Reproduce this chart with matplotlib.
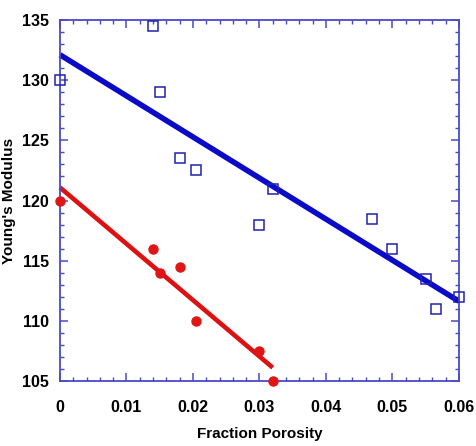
import matplotlib
matplotlib.use("Agg")
import matplotlib.pyplot as plt
import numpy as np
from matplotlib.ticker import MultipleLocator

plt.rcParams['font.family'] = ['Liberation Sans', 'DejaVu Sans']

# blue open squares
blue_x = [0.0, 0.014, 0.015, 0.018, 0.0205, 0.030, 0.032, 0.047, 0.050, 0.055, 0.0565, 0.060]
blue_y = [130.0, 134.5, 129.0, 123.5, 122.5, 118.0, 121.0, 118.5, 116.0, 113.5, 111.0, 112.0]

# red filled circles
red_x = [0.0, 0.014, 0.015, 0.018, 0.0205, 0.030, 0.032]
red_y = [120.0, 116.0, 114.0, 114.5, 110.0, 107.5, 105.0]

xticks = [0, 0.01, 0.02, 0.03, 0.04, 0.05, 0.06]
xticklabels = ['0', '0.01', '0.02', '0.03', '0.04', '0.05', '0.06']
yticks = [105, 110, 115, 120, 125, 130, 135]

axis_col = '#4a4ac8'

fig = plt.figure(figsize=(4.76, 4.46), dpi=100)
ax = fig.add_axes([0.126, 0.1457, 0.838, 0.8093])

# least squares fit lines
bfit = np.polyfit(blue_x, blue_y, 1)
rfit = np.polyfit(red_x, red_y, 1)
bx = np.array([0, 0.06])
rx = np.array([0, 0.032])
ax.plot(bx, np.polyval(bfit, bx), color='#0a0ac8', lw=4, solid_capstyle='butt', clip_on=False)
ax.plot(rx, np.polyval(rfit, rx), color='#dd1111', lw=3.3, solid_capstyle='butt', clip_on=False)

ax.plot(blue_x, blue_y, 's', mfc='none', mec='#2020b0', mew=1.1, ms=7.5, clip_on=False, zorder=5)
ax.plot(red_x, red_y, 'o', color='#e01515', ms=6.5, clip_on=False, zorder=5)

ax.set_xlim(0, 0.06)
ax.set_ylim(105, 135)
ax.set_xticks(xticks)
ax.set_xticklabels(xticklabels)
ax.set_yticks(yticks)
ax.xaxis.set_minor_locator(MultipleLocator(0.002))
ax.yaxis.set_minor_locator(MultipleLocator(1))
ax.tick_params(which='both', direction='in', top=True, right=True, color=axis_col,
               labelsize=11.5)
ax.tick_params(axis='x', pad=14)
ax.tick_params(axis='y', pad=8)
ax.tick_params(which='major', length=6, width=1.1)
ax.tick_params(which='minor', length=3, width=1)
for lab in ax.get_xticklabels() + ax.get_yticklabels():
    lab.set_fontweight('bold')
for s in ax.spines.values():
    s.set_color(axis_col)
    s.set_linewidth(1.3)

ax.set_xlabel('Fraction Porosity', fontsize=11, fontweight='bold', labelpad=8)
ax.set_ylabel("Young's Modulus", fontsize=11, fontweight='bold', labelpad=4)

fig.savefig('out.png', dpi=100)
